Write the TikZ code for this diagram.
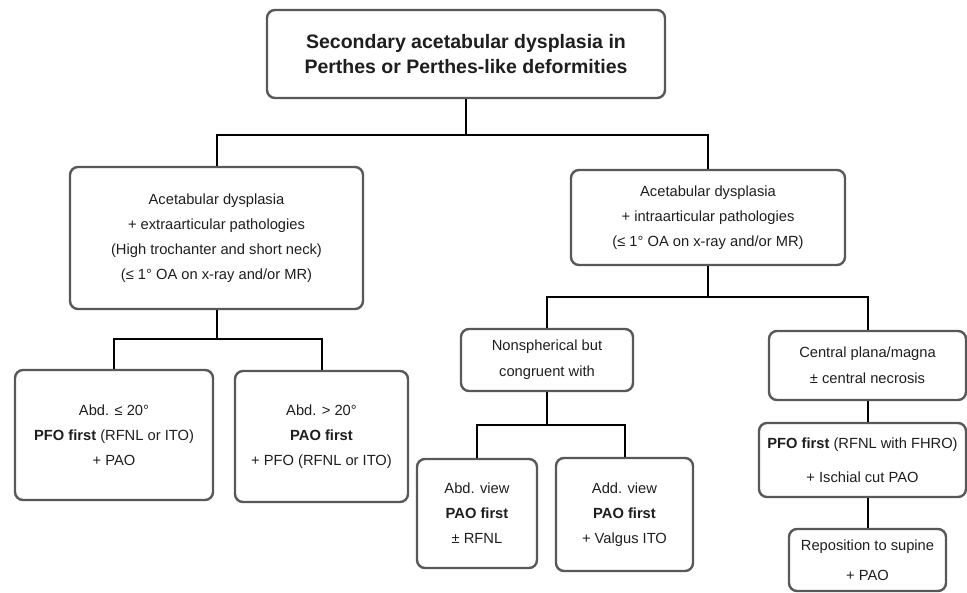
\documentclass[tikz,border=0pt]{standalone}
\usepackage{fontspec}
\setmainfont{Liberation Sans}
\definecolor{boxgray}{HTML}{585858}
\definecolor{textblack}{HTML}{1E1E1E}
\tikzset{
	box/.style={draw=boxgray,line width=2.4pt,rounded corners=8pt,rectangle,align=center,inner sep=0pt,text=textblack,font=\fontsize{14.7}{25}\selectfont},
	headbox/.style={box,font=\fontsize{19.5}{25}\selectfont\bfseries},
	link/.style={draw=black,line width=2pt}
}

\begin{document}
\begin{tikzpicture}[x=1pt,y=-1pt]
			\useasboundingbox (0,0) rectangle (967,592);
			\node[headbox,minimum width=398pt,minimum height=88pt] (head) at (466,54) {Secondary acetabular dysplasia in\\Perthes or Perthes-like deformities};
			\node[box,minimum width=293pt,minimum height=142pt] (extra) at (216.5,238) {Acetabular dysplasia\\+ extraarticular pathologies\\(High trochanter and short neck)\\(≤ 1° OA on x-ray and/or MR)};
			\node[box,minimum width=274pt,minimum height=95pt] (intra) at (708,217.5) {Acetabular dysplasia\\+ intraarticular pathologies\\(≤ 1° OA on x-ray and/or MR)};
			\node[box,minimum width=198pt,minimum height=130pt] (abdlow) at (114,435) {Abd. ≤ 20°\\\textbf{PFO first} (RFNL or ITO)\\+ PAO};
			\node[box,minimum width=173pt,minimum height=131pt] (abdhigh) at (321.5,436.5) {Abd. > 20°\\\textbf{PAO first}\\+ PFO (RFNL or ITO)};
			\node[box,minimum width=172pt,minimum height=62pt] (nonsph) at (547,360) {Nonspherical but\\[1pt]congruent with};
			\node[box,minimum width=120pt,minimum height=109pt] (abdview) at (477,513.5) {Abd. view\\\textbf{PAO first}\\± RFNL};
			\node[box,minimum width=137pt,minimum height=113pt] (addview) at (624.5,514.5) {Add. view\\\textbf{PAO first}\\+ Valgus ITO};
			\node[box,minimum width=197pt,minimum height=69pt] (central) at (867.5,365.5) {Central plana/magna\\[1pt]± central necrosis};
			\node[box,minimum width=207pt,minimum height=74pt] (pfo) at (862.5,460) {\textbf{PFO first} (RFNL with FHRO)\\[9pt]+ Ischial cut PAO};
			\node[box,minimum width=157pt,minimum height=62pt] (repos) at (867.5,560) {Reposition to supine\\[5pt]+ PAO};
			\node[coordinate] (jhead) at (466,135) {};
			\node[coordinate] (jextra) at (216.5,339) {};
			\node[coordinate] (jintra) at (708,297) {};
			\node[coordinate] (jnonsph) at (547,425) {};
			\draw[link] (head) -- (jhead);
			\draw[link] (jhead) -| (extra);
			\draw[link] (jhead) -| (intra);
			\draw[link] (extra) -- (jextra);
			\draw[link] (jextra) -| (abdlow);
			\draw[link] (jextra) -| (abdhigh);
			\draw[link] (intra) -- (jintra);
			\draw[link] (jintra) -| (nonsph);
			\draw[link] (jintra) -| (central);
			\draw[link] (nonsph) -- (jnonsph);
			\draw[link] (jnonsph) -| (abdview);
			\draw[link] (jnonsph) -| (addview);
			\draw[link] (central.south) -- (central.south |- pfo.north);
			\draw[link] (repos.north) -- (repos.north |- pfo.south);
		\end{tikzpicture}
\end{document}
